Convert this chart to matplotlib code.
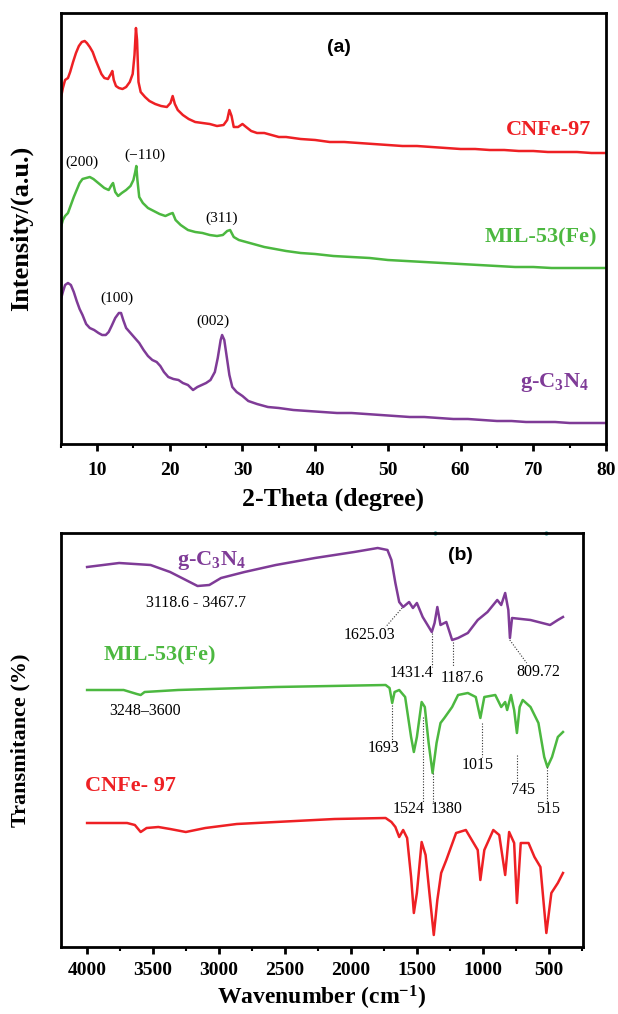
import matplotlib
matplotlib.use("Agg")
import matplotlib.pyplot as plt
from matplotlib.ticker import MultipleLocator

plt.rcParams['font.family'] = ['Liberation Serif', 'DejaVu Serif']
plt.rcParams['mathtext.fontset'] = 'custom'
plt.rcParams['mathtext.rm'] = 'Liberation Serif:bold'
plt.rcParams['mathtext.it'] = 'Liberation Serif:bold'
plt.rcParams['mathtext.bf'] = 'Liberation Serif:bold'

RED = '#ee2024'
GREEN = '#4cb840'
PURPLE = '#7f3b97'

# ---------------- XRD data (stacked intensities, a.u.) ----------------
xrd_cnfe_2t = [5.0, 5.3, 5.6, 6.0, 6.3, 6.7, 7.1, 7.5, 7.9, 8.3, 8.6, 9.0, 9.4, 9.8, 10.2, 10.6, 11.0, 11.5,
               11.9, 12.1, 12.3, 12.6, 13.0, 13.5, 14.0, 14.5, 14.9, 15.15, 15.35, 15.5, 15.7, 16.0, 16.6,
               17.2, 18.0, 18.8, 19.6, 20.1, 20.4, 20.7, 21.1, 21.8, 22.6, 23.5, 24.5, 25.5, 26.5, 27.4,
               27.9, 28.2, 28.5, 28.8, 29.4, 30.0, 30.5, 31.2, 32.0, 33.0, 34.0, 35.0, 36.0, 38.0, 40.0,
               42.0, 44.0, 46.0, 48.0, 50.0, 52.0, 54.0, 56.0, 58.0, 60.0, 62.0, 64.0, 66.0, 68.0, 70.0,
               72.0, 74.0, 76.0, 78.0, 80.0]
xrd_cnfe_int = [344, 355, 363, 365, 371, 381, 390, 397, 401, 402, 400, 396, 391, 383, 376, 369, 365, 364,
                369, 372, 363, 357, 355, 354, 356, 361, 369, 388, 415, 403, 361, 351, 346,
                342, 339, 337, 336, 340, 347, 339, 333, 328, 324, 321, 320, 319, 317, 318,
                323, 333, 327, 316, 316, 319, 316, 312, 310, 310, 308, 306, 306, 304, 303,
                301, 301, 300, 299, 298, 297, 297, 296, 295, 294, 294, 293, 293, 292, 292,
                291, 291, 291, 290, 290]

xrd_mil_2t = [5.0, 5.3, 5.6, 6.0, 6.4, 6.8, 7.2, 7.6, 8.0, 8.5, 9.0, 9.5, 10.0, 10.5, 11.0, 11.6, 12.0,
              12.2, 12.5, 12.9, 13.4, 14.0, 14.6, 15.0, 15.25, 15.4, 15.55, 15.8, 16.3, 17.0, 17.8, 18.6,
              19.4, 20.0, 20.4, 20.8, 21.5, 22.5, 23.5, 24.5, 25.5, 26.5, 27.3, 27.9, 28.3, 28.8, 29.5,
              30.5, 31.5, 33.0, 34.5, 36.0, 38.0, 40.0, 42.5, 45.0, 47.5, 50.0, 52.5, 55.0, 57.5, 60.0,
              62.5, 65.0, 67.5, 70.0, 72.5, 75.0, 77.5, 80.0]
xrd_mil_int = [215, 223, 227, 230, 238, 246, 253, 260, 264, 265, 266, 264, 261, 258, 255, 253, 258,
               260, 251, 247, 250, 253, 257, 263, 271, 277, 263, 246, 240, 235, 232, 229,
               227, 229, 230, 223, 218, 213, 211, 210, 208, 207, 208, 212, 213, 206, 203,
               201, 199, 196, 194, 192, 190, 189, 187, 186, 185, 183, 182, 181, 180, 179,
               178, 177, 176, 176, 175, 175, 175, 175]

xrd_gcn_2t = [5.0, 5.3, 5.6, 6.0, 6.4, 6.8, 7.2, 7.6, 8.0, 8.5, 9.0, 9.6, 10.2, 10.7, 11.2, 11.6, 12.0,
              12.5, 13.0, 13.3, 13.6, 14.0, 14.6, 15.2, 15.8, 16.4, 17.0, 17.6, 18.2, 18.7, 19.2, 19.8,
              20.5, 21.2, 21.8, 22.5, 23.2, 23.8, 24.4, 25.0, 25.6, 26.2, 26.6, 27.0, 27.2, 27.5, 27.8,
              28.2, 28.6, 29.2, 30.0, 30.8, 32.0, 33.5, 35.0, 37.0, 39.0, 41.0, 43.0, 45.0, 47.0, 49.0,
              51.0, 53.0, 55.0, 57.0, 59.0, 61.0, 63.0, 65.0, 67.0, 69.0, 71.0, 73.0, 75.0, 77.0, 80.0]
xrd_gcn_int = [143, 151, 158, 160, 158, 151, 142, 134, 128, 119, 115, 113, 110, 108, 108, 111, 117,
               125, 130, 130, 123, 115, 110, 105, 100, 93, 87, 83, 81, 77, 71, 66,
               64, 63, 60, 58, 53, 56, 58, 60, 63, 71, 85, 103, 108, 103, 88,
               68, 56, 51, 47, 42, 39, 36, 35, 33, 32, 31, 30, 30, 29, 28,
               27, 26, 26, 25, 24, 24, 23, 22, 22, 21, 21, 21, 20, 20, 20]

xrd_hkl = ['(200)', '(\u2212110)', '(311)', '(100)', '(002)']
xrd_hkl_2t = [7.9, 16.6, 27.1, 12.7, 25.9]
xrd_hkl_int = [281, 288, 225, 145, 122]

# ---------------- FTIR data (stacked transmittance) ----------------
ir_gcn_wn = [4000, 3757, 3519, 3371, 3252, 3163, 3074, 2985, 2807, 2570, 2273, 1976, 1798, 1724, 1694,
             1664, 1635, 1605, 1560, 1531, 1501, 1457, 1388, 1367, 1346, 1322, 1278, 1234, 1189, 1115,
             1040, 966, 892, 862, 832, 808, 796, 780, 640, 492, 433, 394]
ir_gcn_t = [380, 384, 382, 375, 367, 361, 362, 369, 375, 382, 389, 395, 399, 397, 387,
            364, 345, 340, 345, 339, 344, 330, 315, 324, 340, 322, 325, 307, 309, 314,
            327, 335, 347, 342, 354, 337, 309, 329, 327, 322, 327, 330]

ir_mil_wn = [4000, 3723, 3623, 3594, 3564, 3311, 2570, 1738, 1708, 1688, 1670, 1635, 1590, 1545, 1524,
             1501, 1465, 1441, 1412, 1382, 1352, 1322, 1293, 1234, 1189, 1115, 1055, 1020, 990, 907,
             862, 832, 817, 788, 764, 743, 722, 699, 640, 580, 536, 512, 477, 433, 394]
ir_mil_t = [257, 257, 253, 252, 255, 257, 260, 262, 259, 244, 255, 257, 250, 210, 195,
            210, 245, 240, 204, 174, 204, 224, 229, 240, 252, 254, 250, 229, 250, 252,
            240, 245, 237, 252, 237, 214, 240, 247, 240, 224, 190, 180, 190, 210, 215]

ir_cnfe_wn = [4000, 3697, 3638, 3594, 3549, 3460, 3371, 3252, 3104, 2866, 2570, 2124, 1738, 1694, 1664,
              1635, 1605, 1575, 1545, 1524, 1501, 1465, 1435, 1406, 1373, 1346, 1317, 1278, 1204, 1130,
              1085, 1040, 1020, 990, 922, 877, 832, 802, 764, 743, 714, 655, 610, 565, 520, 482, 433, 394]
ir_cnfe_t = [124, 124, 122, 115, 119, 120, 118, 115, 119, 123, 125, 128, 129, 125, 120,
             110, 117, 109, 70, 34, 54, 105, 92, 54, 12, 47, 74, 87, 114, 117,
             107, 97, 67, 97, 117, 112, 72, 115, 104, 44, 104, 104, 90, 80, 14, 54, 64, 74]

ir_labels = ['3118.6 - 3467.7', '1625.03', '1431.4', '1187.6', '809.72', '3248\u20133600',
             '1693', '1015', '1524', '1380', '745', '515']
ir_label_wn = [3178, 1857, 1545, 1159, 580, 3564, 1753, 1040, 1560, 1278, 699, 506]
ir_label_t = [344, 312, 274, 269, 275, 236, 199, 182, 138, 138, 157, 138]

# leader lines: (wn_start, t_start, wn_end, t_end)
ir_leaders = [(1613, 339, 1738, 320), (1388, 314, 1388, 280), (1228, 305, 1228, 280),
              (797, 307, 669, 284), (1688, 242, 1688, 205), (1456, 230, 1456, 145),
              (1382, 174, 1382, 144), (1011, 224, 1011, 190), (743, 192, 743, 165),
              (512, 180, 512, 145)]

W, H = 618, 1014
fig = plt.figure(figsize=(W / 100, H / 100), dpi=100)

def px_axes(l, t, r, b):
    return fig.add_axes([l / W, 1 - b / H, (r - l) / W, (b - t) / H])

def style(ax, pad):
    for s in ax.spines.values():
        s.set_linewidth(2.0)
    ax.tick_params(axis='x', which='major', direction='out', length=5, width=2,
                   labelsize=14, pad=pad)
    ax.tick_params(axis='x', which='minor', direction='out', length=3, width=1.5)
    ax.tick_params(axis='y', left=False, labelleft=False)

lw = 1.8

# ---------------- panel (a) ----------------
ax1 = px_axes(60.7, 13, 606, 444)
ax1.plot(xrd_cnfe_2t, xrd_cnfe_int, color=RED, lw=lw)
ax1.plot(xrd_mil_2t, xrd_mil_int, color=GREEN, lw=lw)
ax1.plot(xrd_gcn_2t, xrd_gcn_int, color=PURPLE, lw=lw)
ax1.set_xlim(5, 80)
ax1.set_ylim(-1, 430)
ax1.xaxis.set_minor_locator(MultipleLocator(5))
style(ax1, 8)
ax1.set_xticks([10, 20, 30, 40, 50, 60, 70, 80])
ax1.set_xticklabels(['10', '20', '30', '40', '50', '60', '70', '80'], fontweight='bold', fontsize=14)
ax1.set_xlabel('2-Theta (degree)', fontsize=18.5, fontweight='bold', labelpad=6)
ax1.set_ylabel('Intensity/(a.u.)', fontsize=19, fontweight='bold', labelpad=20)
ax1.text(43.2, 396, '(a)', family=['Liberation Sans'], fontweight='bold', fontsize=14,
         ha='center', va='center')
ax1.text(78.0, 313, 'CNFe-97', color=RED, fontsize=16, fontweight='bold', ha='right', va='center')
ax1.text(78.8, 206, 'MIL-53(Fe)', color=GREEN, fontsize=16, fontweight='bold', ha='right', va='center')
ax1.text(77.7, 60, r'g-C$_3$N$_4$', color=PURPLE, fontsize=16, fontweight='bold', ha='right',
         va='center')
for lab, x, y in zip(xrd_hkl, xrd_hkl_2t, xrd_hkl_int):
    ax1.text(x, y, lab, fontsize=11, ha='center', va='center')

# ---------------- panel (b) ----------------
ax2 = px_axes(60.7, 533, 583.3, 947)
ax2.plot(ir_gcn_wn, ir_gcn_t, color=PURPLE, lw=lw)
ax2.plot(ir_mil_wn, ir_mil_t, color=GREEN, lw=lw)
ax2.plot(ir_cnfe_wn, ir_cnfe_t, color=RED, lw=lw)
ax2.set_xlim(4200, 240)
ax2.set_ylim(0, 414)
ax2.xaxis.set_minor_locator(MultipleLocator(250))
style(ax2, 6)
ax2.set_xticks([4000, 3500, 3000, 2500, 2000, 1500, 1000, 500])
ax2.set_xticklabels(['4000', '3500', '3000', '2500', '2000', '1500', '1000', '500'],
                    fontweight='bold', fontsize=14)
ax2.set_xlabel(r'Wavenumber (cm$^{-1}$)', fontsize=17, fontweight='bold', labelpad=3)
ax2.set_ylabel('Transmitance (%)', fontsize=16, fontweight='bold', labelpad=22)
for (x0, y0, x1, y1) in ir_leaders:
    ax2.plot([x0, x1], [y0, y1], color='#333333', lw=0.8, ls=(0, (1, 1.5)))
for lab, x, y in zip(ir_labels, ir_label_wn, ir_label_t):
    ax2.text(x, y, lab, fontsize=11.5, ha='center', va='center')
ax2.text(3059, 387, r'g-C$_3$N$_4$', color=PURPLE, fontsize=16, fontweight='bold',
         ha='center', va='center')
ax2.text(3445, 292, 'MIL-53(Fe)', color=GREEN, fontsize=16, fontweight='bold',
         ha='center', va='center')
ax2.text(3668, 161, 'CNFe- 97', color=RED, fontsize=16, fontweight='bold',
         ha='center', va='center')
ax2.text(1174, 392, '(b)', family=['Liberation Sans'], fontweight='bold', fontsize=14,
         ha='center', va='center')
ax2.plot([1367, 521], [414, 414], ls='none', marker='o', ms=2, color='#1a9a9a', clip_on=False)

fig.savefig('out.png', dpi=100)
